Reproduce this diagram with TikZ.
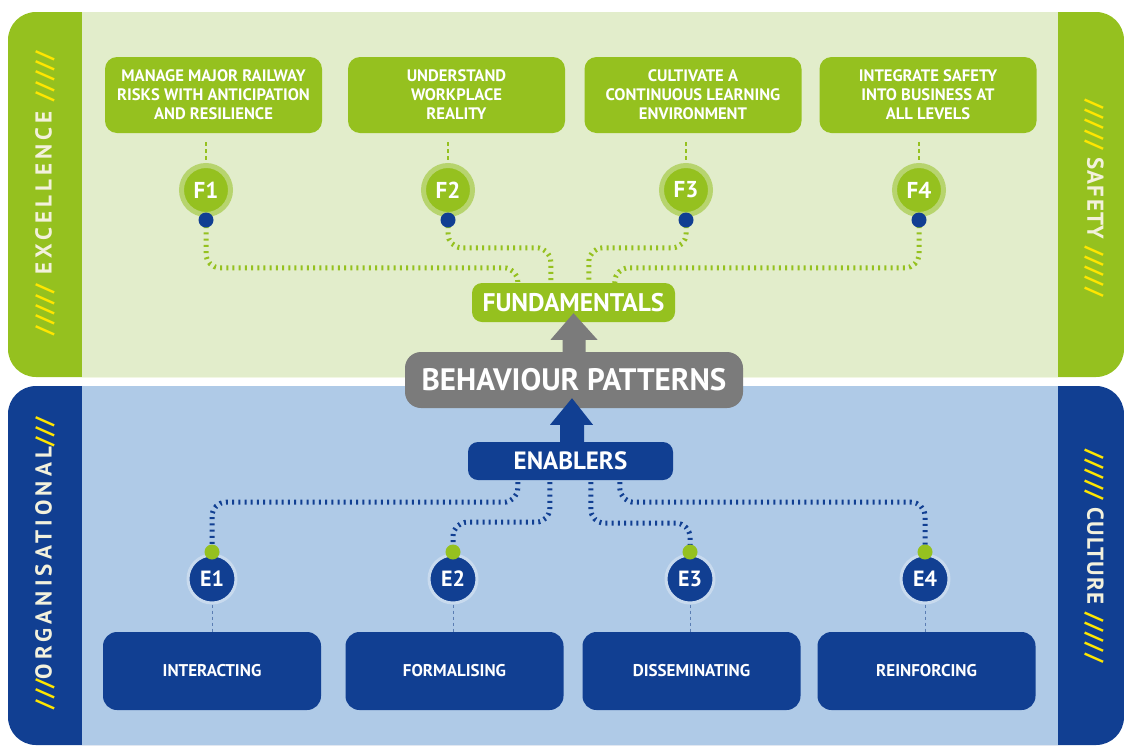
\documentclass[tikz,border=0pt]{standalone}
\usepackage{fontspec}
\setmainfont{PT Sans}
\usetikzlibrary{calc}
\definecolor{lgreen}{HTML}{95C11F}
\definecolor{pgreen}{HTML}{E2EDCB}
\definecolor{ringgreen}{HTML}{B7D46E}
\definecolor{dblue}{HTML}{113F92}
\definecolor{pblue}{HTML}{AFCAE7}
\definecolor{ringblue}{HTML}{C8DAEE}
\definecolor{dashblue}{HTML}{5A7DB3}
\definecolor{grayb}{HTML}{7B7B7B}
\definecolor{ylw}{HTML}{FFE600}
\definecolor{cream}{HTML}{F3F1DC}
\newcommand{\slsh}[1]{{\addfontfeature{LetterSpace=4}\textcolor{ylw}{#1}}}
\tikzset{
  topbox/.style={fill=lgreen, rounded corners=12, text=white, font=\bfseries\fontsize{16.6}{19}\selectfont, align=center, minimum width=217, minimum height=76, inner sep=0},
  botbox/.style={fill=dblue, rounded corners=14, text=white, font=\bfseries\fontsize{17}{18}\selectfont, align=center, minimum width=218, minimum height=78, inner sep=0},
  fcirc/.style={circle, fill=lgreen, draw=ringgreen, line width=5, minimum size=49, inner sep=0, text=white, font=\bfseries\fontsize{23}{23}\selectfont},
  ecirc/.style={circle, fill=dblue, draw=ringblue, line width=3, minimum size=48, inner sep=0, text=white, font=\bfseries\fontsize{22}{22}\selectfont},
  bdot/.style={circle, fill=dblue, minimum size=15, inner sep=0},
  gdot/.style={circle, fill=lgreen, minimum size=15, inner sep=0},
  gconn/.style={draw=lgreen, line width=5, dash pattern=on 2 off 4.2, rounded corners=14},
  bconn/.style={draw=dblue, line width=5, dash pattern=on 2 off 4.2, rounded corners=14},
  fdash/.style={draw=lgreen, line width=1.6, dash pattern=on 4 off 3},
  edash/.style={draw=dashblue, line width=1, dash pattern=on 3 off 3},
  sidelab/.style={text=cream, font=\bfseries\fontsize{23}{23}\selectfont\addfontfeature{LetterSpace=18}},
  sidelabr/.style={text=cream, font=\bfseries\fontsize{23}{23}\selectfont\addfontfeature{LetterSpace=6}},
  pill/.style={rounded corners=10, text=white, inner sep=0}
}
\begin{document}
\begin{tikzpicture}[x=1pt,y=-1pt]
\useasboundingbox (0,0) rectangle (1124,745);
% panels
\fill[lgreen, rounded corners=28] (8,12) rectangle (1124,377);
\fill[pgreen] (82,12) rectangle (1058,377);
\fill[dblue, rounded corners=28] (8,386) rectangle (1124,745);
\fill[pblue] (82,386) rectangle (1058,745);
% side labels
\node[sidelab, rotate=90] (lexc) at (45,193) {\slsh{/////} EXCELLENCE \slsh{/////}};
\node[sidelab, rotate=90] (lorg) at (45,563) {\slsh{///}ORGANISATIONAL\slsh{///}};
\node[sidelabr, rotate=-90] (lsaf) at (1094,198) {\slsh{/////} SAFETY \slsh{/////}};
\node[sidelabr, rotate=-90] (lcul) at (1094,556) {\slsh{/////} CULTURE \slsh{/////}};
% top boxes
\node[topbox] (fb1) at (213.5,95) {MANAGE MAJOR RAILWAY\\RISKS WITH ANTICIPATION\\AND RESILIENCE};
\node[topbox] (fb2) at (456.5,95) {UNDERSTAND\\WORKPLACE\\REALITY};
\node[topbox] (fb3) at (693,95) {CULTIVATE A\\CONTINUOUS LEARNING\\ENVIRONMENT};
\node[topbox] (fb4) at (928,95) {INTEGRATE SAFETY\\INTO BUSINESS AT\\ALL LEVELS};
% fundamentals
\node[pill, fill=lgreen, minimum width=203, minimum height=39, font=\bfseries\fontsize{25.5}{25.5}\selectfont] (fund) at (573.5,302.5) {FUNDAMENTALS};
% F circles
\foreach \i/\x in {1/206,2/448,3/686,4/919}{
  \node[fcirc] (f\i) at (\x,190) {F\i};
  \draw[fdash] ($(fb\i.south -| f\i)+(0,9)$) -- (f\i.north);
}
% green connectors
\draw[gconn] (f1.center |- 0,220) |- ($(fund.north west)+(46,-15)$) -- ($(fund.north west)+(46,0)$);
\draw[gconn] (f2.center |- 0,220) |- ($(fund.north west)+(79,-35)$) -- ($(fund.north west)+(79,0)$);
\draw[gconn] (f3.center |- 0,220) |- ($(fund.north west)+(117,-35)$) -- ($(fund.north west)+(117,0)$);
\draw[gconn] (f4.center |- 0,220) |- ($(fund.north west)+(143,-15)$) -- ($(fund.north west)+(143,0)$);
\foreach \i/\x in {1/206,2/448,3/686,4/919}{
  \node[bdot] (fd\i) at (\x,220) {};
}
% behaviour patterns
\node[pill, fill=grayb, rounded corners=16, minimum width=338, minimum height=56, font=\bfseries\fontsize{31}{31}\selectfont] (bp) at (574,380) {BEHAVIOUR PATTERNS};
% gray arrow
\fill[grayb] ($(bp.north)+(-11.5,1)$) -- ++(0,-13) -- ++(-12,0) -- ($(fund.south)+(0,-9)$) -- ($(bp.north)+(23.5,-12)$) -- ++(-12,0) -- ++(0,13) -- cycle;
% enablers
\node[pill, fill=dblue, minimum width=205, minimum height=38, font=\bfseries\fontsize{25}{25}\selectfont] (en) at (570.5,461) {ENABLERS};
% blue arrow
\fill[dblue] ($(en.north)+(-10.5,1)$) -- ++(0,-18) -- ++(-10,0) -- ($(bp.south)+(-2,-10)$) -- ($(en.north)+(22.5,-17)$) -- ++(-9,0) -- ++(0,18) -- cycle;
% E circles and dots
\foreach \i/\x in {1/212,2/453,3/690,4/925}{
  \node[ecirc] (e\i) at (\x,579) {E\i};
  \coordinate (ed\i) at (\x,552);
}
\draw[bconn] ($(en.south west)+(50,2)$) -- ($(en.south west)+(50,22)$) -| (ed1);
\draw[bconn] ($(en.south west)+(82,2)$) -- ($(en.south west)+(82,42)$) -| (ed2);
\draw[bconn] ($(en.south west)+(123,2)$) -- ($(en.south west)+(123,43)$) -| (ed3);
\draw[bconn] ($(en.south west)+(152,2)$) -- ($(en.south west)+(152,22)$) -| (ed4);
\foreach \i in {1,2,3,4}{
  \node[gdot] (gd\i) at (ed\i) {};
}
% bottom boxes
\node[botbox] (bb1) at (212,671) {INTERACTING};
\node[botbox] (bb2) at (454.5,671) {FORMALISING};
\node[botbox] (bb3) at (691.5,671) {DISSEMINATING};
\node[botbox] (bb4) at (926.5,671) {REINFORCING};
\foreach \i in {1,2,3,4}{
  \draw[edash] (e\i.south) -- (e\i.south |- bb\i.north);
}
\end{tikzpicture}
\end{document}
